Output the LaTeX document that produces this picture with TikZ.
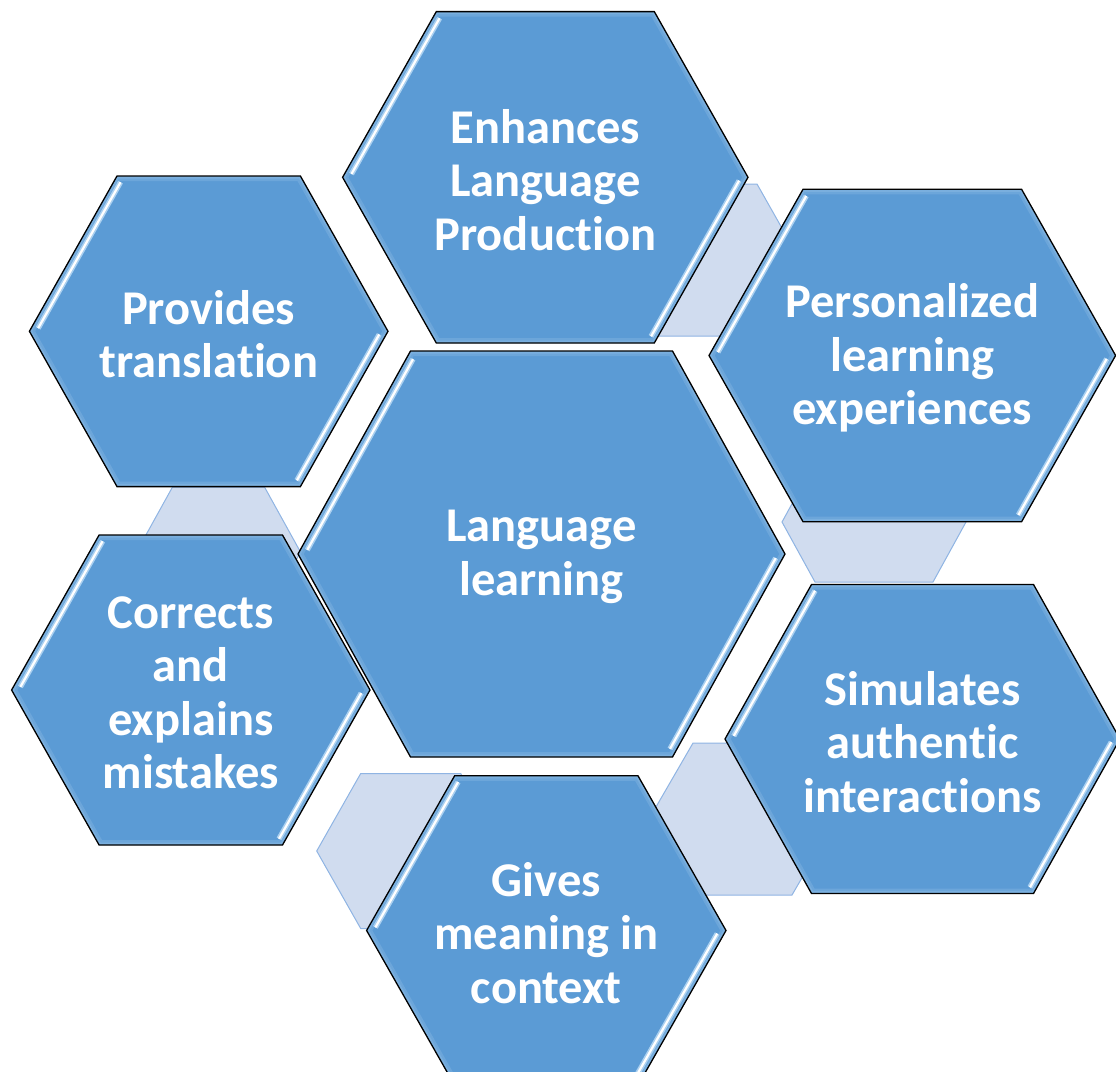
\documentclass[tikz,border=0pt]{standalone}
\usepackage{fontspec}
\setmainfont{Carlito}[Ligatures={NoCommon}]
\usetikzlibrary{calc}
\definecolor{hexblue}{RGB}{91,155,213}
\definecolor{glowblue}{RGB}{150,192,232}
\definecolor{lightfill}{RGB}{208,220,239}
\definecolor{lightline}{RGB}{143,180,227}
\definecolor{stripblue}{RGB}{170,208,240}
\newcommand{\hexshape}[5]{({#1-#5},{#2-#4}) -- ({#1+#5},{#2-#4}) -- ({#1+#3},{#2}) -- ({#1+#5},{#2+#4}) -- ({#1-#5},{#2+#4}) -- ({#1-#3},{#2}) -- cycle}
\newcommand{\lighthex}[5]{\filldraw[lighthexstyle] \hexshape{#1}{#2}{#3}{#4}{#5};}
\newcommand{\mainhex}[5]{%
  \fill[hexblue] \hexshape{#1}{#2}{#3}{#4}{#5};
  \begin{scope}
    \clip \hexshape{#1}{#2}{#3}{#4}{#5};
    \draw[glowblue, line width=10pt, opacity=0.30] \hexshape{#1}{#2}{#3}{#4}{#5};
    \draw[glowblue, line width=5pt, opacity=0.35] \hexshape{#1}{#2}{#3}{#4}{#5};
  \end{scope}
  \draw[hexoutline] \hexshape{#1}{#2}{#3}{#4}{#5};
  \coordinate (tl) at ({#1-#5},{#2-#4});
  \coordinate (lv) at ({#1-#3},{#2});
  \coordinate (rv) at ({#1+#3},{#2});
  \coordinate (br) at ({#1+#5},{#2+#4});
  \draw[stripline] ($(tl)!0.04!(lv)+(7,0)$) -- ($(tl)!0.98!(lv)+(7,0)$);
  \draw[stripline] ($(rv)!0.02!(br)+(-7,0)$) -- ($(rv)!0.96!(br)+(-7,0)$);
}
\tikzset{
  lighthexstyle/.style={fill=lightfill, draw=lightline, line width=1pt, line join=miter},
  hexoutline/.style={draw=black, line width=1.3pt, line join=miter},
  stripline/.style={draw=stripblue, line width=1.6pt, double=white, double distance=2.2pt},
  txt/.style={text=white, font=\fontsize{48.5}{53.5}\selectfont\bfseries, align=center, inner sep=0pt}
}
\begin{document}
\begin{tikzpicture}[x=1pt,y=-1pt]
\useasboundingbox (0,0) rectangle (1116,1071);
% connector hexagons (behind)
\lighthex{707}{260}{93}{76}{50}
\lighthex{874}{522}{92}{60}{59}
\lighthex{742.5}{819}{93.5}{76}{49.5}
\lighthex{410.7}{851}{94}{77.5}{50}
\lighthex{218.5}{552}{82}{65}{46}
% main hexagons
\mainhex{545.3}{177.3}{202.7}{165.7}{109}
\mainhex{912.3}{355.5}{203.3}{166.2}{109.3}
\mainhex{541.5}{554}{243.5}{203}{131}
\mainhex{208.7}{331.3}{179.3}{155.3}{91.7}
\mainhex{190.8}{690}{179.2}{155}{91.7}
\mainhex{922.5}{739}{197.5}{154.5}{111}
\mainhex{546.3}{930.5}{179.7}{154.7}{91.7}
% texts
\node[txt] (enh) at (545.3,180) {Enhances\\Language\\Production};
\node[txt] (per) at (912.3,358) {Personalized\\learning\\experiences};
\node[txt] (cen) at (541.5,557) {Language\\learning};
\node[txt] (pro) at (208.7,334) {Provides\\translation};
\node[txt] (cor) at (190.8,693) {Corrects\\and\\explains\\mistakes};
\node[txt] (sim) at (922.5,742) {Simulates\\authentic\\interactions};
\node[txt] (giv) at (546.3,933) {Gives\\meaning in\\context};
\end{tikzpicture}
\end{document}
